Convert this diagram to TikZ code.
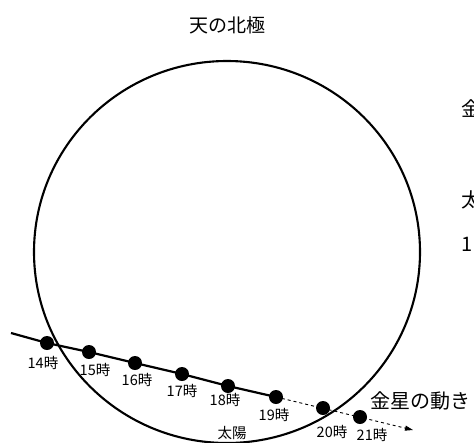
\documentclass[tikz,border=0pt]{standalone}
\usepackage{fontspec}
\setmainfont{Noto Sans CJK JP}
\usetikzlibrary{arrows.meta}
\begin{document}
\begin{tikzpicture}[x=1pt,y=-1pt,
  dot/.style={circle,fill=black,inner sep=0pt,minimum size=14pt},
  tlabel/.style={inner sep=0pt,font=\fontsize{14.5}{16}\selectfont},
  biglabel/.style={inner sep=0pt,font=\fontsize{20}{24}\selectfont},
  path1/.style={line width=2.2pt},
  path2/.style={line width=0.9pt,dash pattern=on 3pt off 3pt,-{Triangle[length=8pt,width=5pt]}}]
\useasboundingbox (0,0) rectangle (474,442);
% celestial circle
\draw[line width=2.1pt] (227,252) ellipse [x radius=193, y radius=191];
% path
\coordinate (start) at (11,333);
\coordinate (end) at (413,430);
\node[dot] (d14) at (47,343) {};
\node[dot] (d15) at (89,352) {};
\node[dot] (d16) at (135,363) {};
\node[dot] (d17) at (182,374) {};
\node[dot] (d18) at (228,386) {};
\node[dot] (d19) at (276,397) {};
\node[dot] (d20) at (323,408) {};
\node[dot] (d21) at (360,417) {};
\draw[path1] (start) -- (d14.center) -- (d15.center) -- (d16.center) -- (d17.center) -- (d18.center) -- (d19.center);
\draw[path2] (d19.center) -- (end);
% labels
\node[tlabel] (l14) at (43,363) {14時};
\node[tlabel] (l15) at (95,370) {15時};
\node[tlabel] (l16) at (137,380) {16時};
\node[tlabel] (l17) at (182,391) {17時};
\node[tlabel] (l18) at (225,400) {18時};
\node[tlabel] (l19) at (274,415) {19時};
\node[tlabel] (l20) at (332,432) {20時};
\node[tlabel] (l21) at (372,435) {21時};
\node[tlabel] (sun) at (232,433) {太陽};
\node[biglabel] (venus) at (420,401) {金星の動き};
\node[inner sep=0pt,font=\fontsize{19}{22}\selectfont] (pole) at (227,25) {天の北極};
% cut-off texts at right edge (cut in the reference too)
\node[biglabel,anchor=west] (c1) at (461,109) {金};
\node[biglabel,anchor=west] (c2) at (461,200) {太};
\node[biglabel,anchor=west] (c3) at (461,244) {1};
\end{tikzpicture}
\end{document}
